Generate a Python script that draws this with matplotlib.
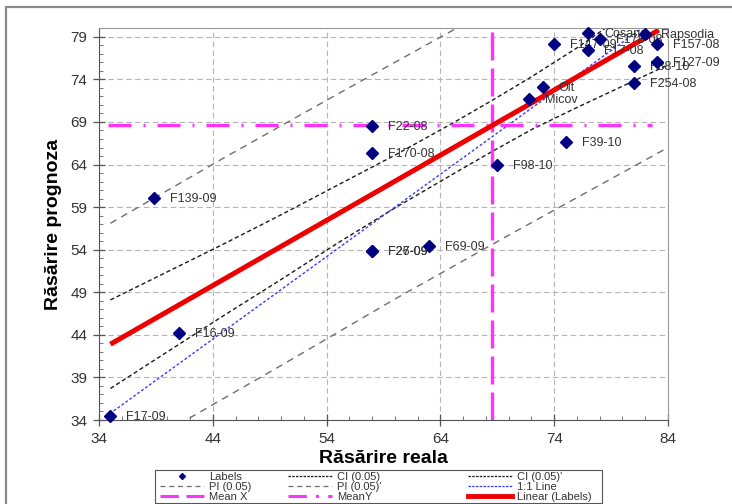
import numpy as np
import matplotlib
matplotlib.use('Agg')
import matplotlib.pyplot as plt
from matplotlib.lines import Line2D
from matplotlib.patches import Rectangle
from matplotlib.ticker import MultipleLocator

plt.rcParams['font.family'] = ['Liberation Sans', 'DejaVu Sans']

# Observed vs. predicted emergence per genotype
real = [35.0, 41.0, 38.8, 58.0, 58.0, 58.0, 58.0, 63.0, 69.0, 75.0, 73.0, 71.8,
        74.0, 77.0, 78.0, 77.0, 82.0, 83.0, 83.0, 81.0, 81.0]
prognoza = [34.5, 44.2, 60.1, 68.5, 65.3, 53.8, 53.8, 54.4, 64.0, 66.6, 73.1, 71.7,
            78.1, 79.4, 78.7, 77.4, 79.3, 78.1, 76.1, 75.6, 73.6]
names = ['F17-09', 'F16-09', 'F139-09', 'F22-08', 'F170-08', 'F27-09', 'F26-09',
         'F69-09', 'F98-10', 'F39-10', 'Olt', 'Micov', 'F147-09', 'Cosana',
         'F178-08', 'F17-08', 'Rapsodia', 'F157-08', 'F127-09', 'F88-10', 'F254-08']

# Linear fit, end points
fit_x = [35.0, 83.2]
fit_y = [42.9, 79.8]

# Confidence bands of the fit
ci_x = [35, 40, 45, 50, 55, 60, 65, 68.5, 72, 76, 80, 84]
ci_hi = [48.1, 51.4, 54.7, 58.1, 61.6, 65.1, 68.8, 71.5, 74.3, 77.7, 81.4, 85.1]
ci_lo = [37.7, 42.0, 46.3, 50.5, 54.8, 58.9, 62.8, 65.5, 68.1, 70.7, 73.2, 75.7]

# Prediction bands
pi_hi_x = [35, 45, 55, 65, 67]
pi_hi_y = [57.1, 64.8, 72.3, 79.7, 81.2]
pi_lo_x = [41, 50, 60, 70, 84]
pi_lo_y = [33.5, 40.4, 48.2, 55.7, 66.0]

# 1:1 reference
one_x = [34.6, 81.7]
one_y = [34.4, 80.0]

mean_x = 68.5
mean_y = 68.7

W, H = 732, 504
fig = plt.figure(figsize=(W / 100, H / 100), dpi=100)
fig.patches.append(Rectangle((6 / W, -0.2), 1.2, 1.2 - 7 / H,
                             transform=fig.transFigure, fill=False,
                             edgecolor='#8a8a8a', linewidth=1.6, zorder=0))
ax = fig.add_axes([99 / W, 1 - 420 / H, (668 - 99) / W, (420 - 28.3) / H])

ax.set_xlim(34, 84)
ax.set_ylim(34, 80)
ax.set_xticks([34, 44, 54, 64, 74, 84])
ax.set_yticks([34, 39, 44, 49, 54, 59, 64, 69, 74, 79])
ax.xaxis.set_minor_locator(MultipleLocator(2))
ax.yaxis.set_minor_locator(MultipleLocator(1))
ax.tick_params(which='major', direction='inout', length=9, width=0.9, color='#555555',
               labelsize=11, labelcolor='#333333', pad=4)
ax.tick_params(which='minor', direction='in', length=3, width=0.7, color='#777777')
ax.grid(True, which='major', color='#b5b5b5', linestyle=(0, (5, 3)), linewidth=0.8)
ax.set_axisbelow(True)
for side in ['top', 'right']:
    ax.spines[side].set_color('#9a9a9a')
for side in ['left', 'bottom']:
    ax.spines[side].set_color('#555555')

# bands and reference lines
ax.plot(pi_hi_x, pi_hi_y, color='#6e6e6e', lw=1.0, dashes=(5, 4))
ax.plot(pi_lo_x, pi_lo_y, color='#6e6e6e', lw=1.0, dashes=(5, 4))
ax.plot(ci_x, ci_hi, color='#1a1a1a', lw=1.0, dashes=(3, 2))
ax.plot(ci_x, ci_lo, color='#1a1a1a', lw=1.0, dashes=(3, 2))
ax.plot(one_x, one_y, color='#3a3aff', lw=1.0, dashes=(2, 1.5))
ax.axvline(mean_x, color='#ff33ff', lw=2.4, dashes=(8.4, 2.4))
ax.plot([34.8, 82.6], [mean_y, mean_y], color='#ff33ff', lw=2.4,
        dashes=(6.9, 3.6, 0.6, 3.6))
ax.plot(fit_x, fit_y, color='#ee0000', lw=3.6, solid_capstyle='butt')

ax.plot(real, prognoza, 'D', color='#000080', ms=6.5, ls='none', zorder=5, clip_on=False)
for xv, yv, nm in zip(real, prognoza, names):
    ax.annotate(nm, (xv, yv), xytext=(16, -1), textcoords='offset pixels',
                fontsize=9, color='#333333', va='center', ha='left',
                annotation_clip=False)

ax.set_xlabel('Răsărire reala', fontsize=14, fontweight='bold', labelpad=3)
ax.set_ylabel('Răsărire prognoza', fontsize=14, fontweight='bold', labelpad=6)

# legend: three columns, each its own block, inside one frame
h = {
    'Labels': Line2D([], [], marker='D', color='#000080', ms=3, ls='none'),
    'CI (0.05)': Line2D([], [], color='#1a1a1a', lw=0.9, dashes=(2, 1)),
    "CI (0.05)'": Line2D([], [], color='#1a1a1a', lw=0.9, dashes=(2, 1)),
    'PI (0.05)': Line2D([], [], color='#6e6e6e', lw=0.9, dashes=(4, 3)),
    "PI (0.05)'": Line2D([], [], color='#6e6e6e', lw=0.9, dashes=(4, 3)),
    '1:1 Line': Line2D([], [], color='#3a3aff', lw=0.9, dashes=(2, 1)),
    'Mean X': Line2D([], [], color='#ff33ff', lw=2.2, dashes=(6, 2.5)),
    'MeanY': Line2D([], [], color='#ff33ff', lw=2.2, dashes=(6, 3, 1, 3)),
    'Linear (Labels)': Line2D([], [], color='#ee0000', lw=3.5),
}
columns = [(160, ['Labels', 'PI (0.05)', 'Mean X']),
           (288, ['CI (0.05)', "PI (0.05)'", 'MeanY']),
           (468, ["CI (0.05)'", '1:1 Line', 'Linear (Labels)'])]
for x0, keys in columns:
    leg = fig.legend([h[k] for k in keys], keys, loc='upper left',
                     bbox_to_anchor=(x0 / W, 1 - 471.5 / H), fontsize=8,
                     frameon=False, borderpad=0, labelspacing=0.0,
                     handlelength=4.0, handletextpad=0.4, borderaxespad=0)
    for t in leg.get_texts():
        t.set_color('#333333')
fig.patches.append(Rectangle((155 / W, 1 - 503 / H), (602 - 155) / W, 33 / H,
                             transform=fig.transFigure, fill=False,
                             edgecolor='#555555', linewidth=0.8))

fig.savefig('out.png', dpi=100)
